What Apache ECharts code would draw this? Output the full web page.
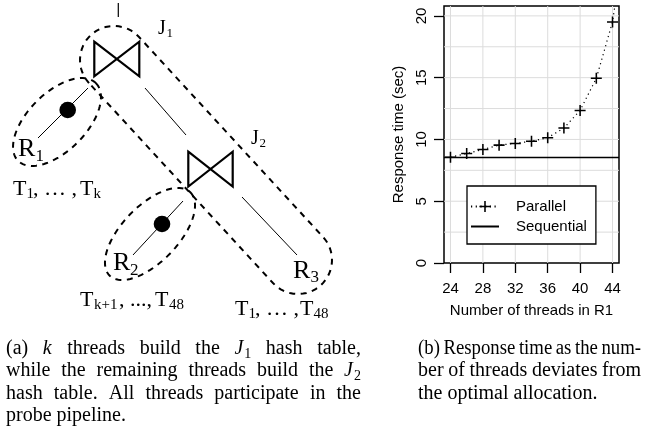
<!DOCTYPE html>
<html><head><meta charset="utf-8">
<script src="https://cdn.jsdelivr.net/npm/echarts@6/dist/echarts.min.js"></script>
<style>html,body{margin:0;padding:0;background:#fff}#c{width:646px;height:438px}</style>
</head><body><div id="c"></div>
<script>
// ---------------- data ----------------
const threads = [24, 26, 28, 30, 32, 34, 36, 38, 40, 42, 44, 46];
const parallelTime = [8.56, 8.86, 9.19, 9.54, 9.68, 9.86, 10.14, 10.92, 12.35, 14.95, 19.51, 28.5];
const sequentialTime = 8.56;
const seriesNames = ['Parallel', 'Sequential'];
const xTickValues = [24, 28, 32, 36, 40, 44];
const yTickValues = [0, 5, 10, 15, 20];
const xGridValues = [24, 28, 32, 36, 40, 44];
const yGridValues = [2.5, 5, 7.5, 10, 12.5, 15, 17.5, 20];
const xAxisTitle = 'Number of threads in R1';
const yAxisTitle = 'Response time (sec)';
const captionA = ['(a) _k_ threads build the _J_~1~ hash table,', 'while the remaining threads build the _J_~2~', 'hash table. All threads participate in the', 'probe pipeline.'];
const captionB = ['(b) Response time as the num-', 'ber of threads deviates from', 'the optimal allocation.'];

// ---------------- helpers ----------------
const SERIF = '"Liberation Serif", "Times New Roman", Times, serif';
const SANS = '"Liberation Sans", Arial, Helvetica, sans-serif';
const mctx = document.createElement('canvas').getContext('2d');
function measure(t, size, italic) { mctx.font = (italic ? 'italic ' : '') + size + 'px ' + SERIF; return mctx.measureText(t).width; }
const graphics = [];
function addText(parent, x, y, t, size, italic) {
  parent.push({ type: 'text', x: x, y: y, silent: true, z: 100,
    style: { text: t, fontSize: size, fontFamily: SERIF, fontStyle: italic ? 'italic' : 'normal', fill: '#000',
      align: 'left', verticalAlign: 'middle', textAlign: 'left', textVerticalAlign: 'middle' } });
}
function sline(x1, y1, x2, y2, w) { graphics.push({ type: 'line', silent: true, shape: { x1, y1, x2, y2 }, style: { stroke: '#000', lineWidth: w } }); }
function dashPoly(pts) { graphics.push({ type: 'polygon', silent: true, shape: { points: pts }, style: { fill: 'none', stroke: '#000', lineWidth: 2, lineDash: [6, 5.5] } }); }
function bowtie(x0, y0, x1, y1) { graphics.push({ type: 'polygon', silent: true, shape: { points: [[x0, y0], [x1, y1], [x1, y0], [x0, y1]] }, style: { fill: 'none', stroke: '#000', lineWidth: 2.2, lineJoin: 'miter' } }); }
function dot(cx, cy, r) { graphics.push({ type: 'circle', silent: true, shape: { cx, cy, r }, style: { fill: '#000' } }); }
function ellipsePts(cx, cy, a, b, deg) {
  const th = deg * Math.PI / 180, pts = [];
  for (let k = 0; k < 96; k++) { const t = 2 * Math.PI * k / 96;
    pts.push([cx + a * Math.cos(t) * Math.cos(th) - b * Math.sin(t) * Math.sin(th), cy + a * Math.cos(t) * Math.sin(th) + b * Math.sin(t) * Math.cos(th)]); }
  return pts;
}
function capsulePts(c1, c2, r) {
  const ang = Math.atan2(c2[1] - c1[1], c2[0] - c1[0]), pts = [];
  for (let k = 0; k <= 32; k++) { const a = ang + Math.PI / 2 + Math.PI * k / 32; pts.push([c1[0] + r * Math.cos(a), c1[1] + r * Math.sin(a)]); }
  for (let k = 0; k <= 32; k++) { const a = ang - Math.PI / 2 + Math.PI * k / 32; pts.push([c2[0] + r * Math.cos(a), c2[1] + r * Math.sin(a)]); }
  return pts;
}
function label(parts) { parts.forEach(p => addText(graphics, p[0], p[1], p[2], p[3], false)); }

// ---------------- diagram (panel a) ----------------
sline(118.3, 3, 118.3, 17, 1.2);
bowtie(94.3, 41.7, 139.3, 76.3);
bowtie(188.3, 151.7, 232.7, 186.5);
sline(88, 88, 38, 138, 1);
dot(67.7, 110, 8.3);
sline(145, 88, 186, 135, 1);
sline(183, 201, 133, 255, 1);
dot(162, 224, 8.3);
sline(242, 197, 297, 255, 1);
dashPoly(capsulePts([114, 60], [298, 260], 34));
dashPoly(ellipsePts(57, 122, 55, 29, -45));
dashPoly(ellipsePts(150, 234, 58, 28, -46));
label([[158, 29, 'J', 20], [166.5, 34, '1', 13]]);
label([[251, 138.5, 'J', 20], [259.5, 143.5, '2', 13]]);
label([[18, 149.5, 'R', 26], [35.5, 157, '1', 17]]);
label([[113, 263.5, 'R', 26], [130, 271, '2', 17]]);
label([[293, 271, 'R', 26], [310.5, 278, '3', 17]]);
label([[13, 189.5, 'T', 22], [26.5, 194.5, '1', 15], [33, 189.5, ', \u2026 ,', 22], [80, 189.5, 'T', 22], [93.5, 194.5, 'k', 15]]);
label([[80, 300.5, 'T', 22], [94, 305.5, 'k+1', 15], [119, 300.5, ', ...,', 22], [155, 300.5, 'T', 22], [169, 305.5, '48', 15]]);
label([[235, 309.5, 'T', 22], [248.5, 314.5, '1', 15], [255, 309.5, ', \u2026 ,', 22], [300, 309.5, 'T', 22], [313.5, 314.5, '48', 15]]);

// ---------------- captions ----------------
const CAP_SIZE = 20, CAP_SUB = 14;
function parseWord(w) { const runs = []; w.replace(/_([^_]+)_|~([^~]+)~|([^_~]+)/g, (m, it, sb, pl) => { if (it) runs.push({ t: it, it: true }); else if (sb) runs.push({ t: sb, sub: true }); else runs.push({ t: pl }); return m; }); return runs; }
function captionLine(str, left, right, baseline, justify) {
  const words = str.split(' ').map(w => { let x = 0; const runs = parseWord(w).map(r => { const sz = r.sub ? CAP_SUB : CAP_SIZE; const wd = measure(r.t, sz, r.it); const o = Object.assign({}, r, { sz: sz, dx: x }); x += wd + (r.it ? 1 : 0); return o; }); return { runs, w: x }; });
  const space = measure(' ', CAP_SIZE, false);
  const sum = words.reduce((s, w) => s + w.w, 0);
  const n = words.length, target = right - left;
  let gap = space, scale = 1;
  if (justify && n > 1) { gap = (target - sum) / (n - 1); if (gap < space * 0.75) { gap = space * 0.75; scale = target / (sum + gap * (n - 1)); } }
  const children = []; let x = 0;
  words.forEach(w => { w.runs.forEach(r => { const yb = r.sub ? baseline + 4 : baseline; addText(children, x + r.dx, yb - 0.3375 * r.sz, r.t, r.sz, r.it); }); x += w.w + gap; });
  graphics.push({ type: 'group', x: left, y: 0, scaleX: scale, scaleY: 1, originX: 0, originY: 0, children: children });
}
const capBase = [355, 377.5, 400, 422.5];
captionA.forEach((s, i) => captionLine(s, 6, 361, capBase[i], i < captionA.length - 1));
captionB.forEach((s, i) => captionLine(s, 418, 641, capBase[i], i < captionB.length - 1));

// ---------------- chart (panel b) ----------------
const plusPath = 'path://M4.3,0H5.7V4.3H10V5.7H5.7V10H4.3V5.7H0V4.3H4.3Z';
const axisFont = { fontSize: 15, fontFamily: SANS, color: '#000' };
const GRID_COLOR = '#dcdcdc';
function gridRender(vertical) {
  return function (params, api) {
    const cs = params.coordSys;
    const p = api.coord([api.value(0), api.value(1)]);
    const shape = vertical ? { x1: p[0], y1: cs.y, x2: p[0], y2: cs.y + cs.height } : { x1: cs.x, y1: p[1], x2: cs.x + cs.width, y2: p[1] };
    return { type: 'line', silent: true, shape: shape, style: { stroke: GRID_COLOR, lineWidth: 1 } };
  };
}
const chart = echarts.init(document.getElementById('c'), null, { renderer: 'canvas' });
chart.setOption({
  animation: false,
  backgroundColor: '#fff',
  grid: { left: 444, right: 27, top: 6, bottom: 175, show: true, borderColor: '#000', borderWidth: 1.5, backgroundColor: 'transparent' },
  xAxis: {
    type: 'value', min: 23.2, max: 44.8,
    axisLine: { show: false },
    axisTick: { show: true, customValues: xTickValues, length: 10, lineStyle: { color: '#000', width: 1.3 } },
    axisLabel: Object.assign({ customValues: xTickValues, margin: 18 }, axisFont),
    splitLine: { show: false },
    name: xAxisTitle, nameLocation: 'middle', nameGap: 40, nameTextStyle: axisFont
  },
  yAxis: {
    type: 'value', min: 0, max: 20.8, interval: 5,
    axisLine: { show: false },
    axisTick: { show: true, customValues: yTickValues, length: 10, lineStyle: { color: '#000', width: 1.3 } },
    axisLabel: Object.assign({ customValues: yTickValues, rotate: 90, margin: 15 }, axisFont),
    splitLine: { show: false },
    name: yAxisTitle, nameLocation: 'middle', nameGap: 38, nameRotate: 90, nameTextStyle: axisFont
  },
  legend: {
    data: seriesNames, orient: 'vertical', left: 467, top: 186, itemWidth: 28, itemHeight: 14, itemGap: 5,
    padding: [13, 9, 10, 3], borderColor: '#000', borderWidth: 1.3, borderRadius: 0, backgroundColor: '#fff',
    selectedMode: false, textStyle: { fontSize: 15, fontFamily: SANS, color: '#000', padding: [0, 0, 0, 12] }, z: 10
  },
  series: [
    { name: 'vgrid', type: 'custom', silent: true, z: 1, renderItem: gridRender(true),
      data: xGridValues.map(v => [v, yTickValues[0]]) },
    { name: 'hgrid', type: 'custom', silent: true, z: 1, renderItem: gridRender(false),
      data: yGridValues.map(v => [xTickValues[0], v]) },
    { name: seriesNames[1], type: 'line', z: 3, silent: true, data: [], symbol: 'none',
      itemStyle: { color: 'rgba(0,0,0,0)' }, lineStyle: { color: '#000', width: 1.3, type: 'solid' },
      markLine: { silent: true, symbol: 'none', animation: false, label: { show: false },
        lineStyle: { color: '#000', width: 1.3, type: 'solid' }, data: [{ yAxis: sequentialTime }] } },
    { name: seriesNames[0], type: 'line', z: 4, silent: true, clip: true,
      data: threads.map((t, i) => [t, parallelTime[i]]),
      symbol: plusPath, symbolSize: 11, itemStyle: { color: '#000' },
      lineStyle: { color: '#000', width: 1.2, type: [1.2, 3.5] } }
  ],
  graphic: graphics
});
</script>
</body></html>
